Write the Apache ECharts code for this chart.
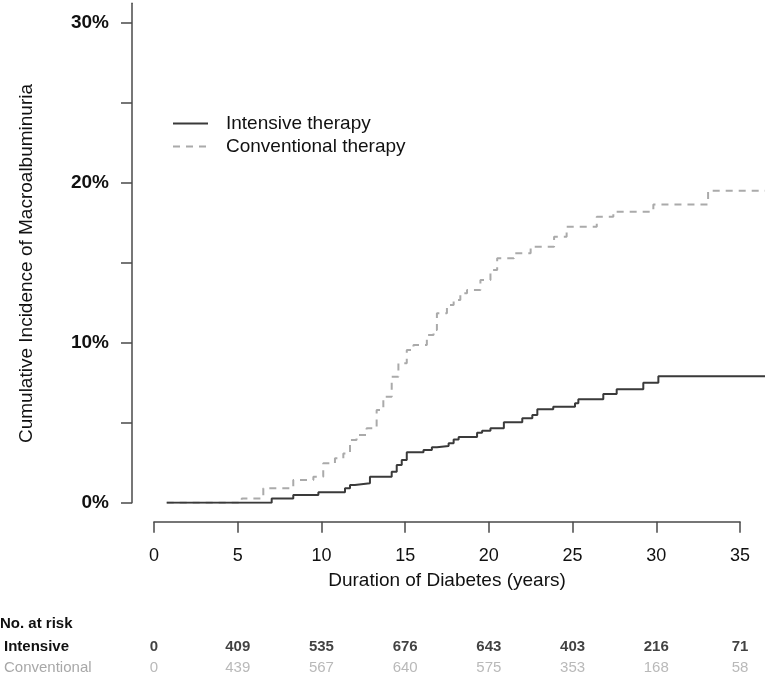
<!DOCTYPE html>
<html>
<head>
<meta charset="utf-8">
<script src="https://cdn.jsdelivr.net/npm/echarts@6/dist/echarts.min.js"></script>
<style>
html,body{margin:0;padding:0;background:#fff;}
#chart{width:768px;height:679px;}
</style>
</head>
<body>
<div id="chart"></div>
<script>
// ---- data ----
var intensiveYears = [0.76, 7.03, 8.32, 9.82, 11.41, 11.71, 12.0, 12.9, 14.2, 14.5, 14.8, 15.1, 16.1, 16.6, 16.9, 17.6, 17.9, 18.2, 19.3, 19.6, 20.1, 20.9, 22.0, 22.6, 22.9, 23.85, 25.15, 25.35, 26.84, 27.64, 29.23, 30.13, 36.5];
var intensiveIncidence = [0, 0.27, 0.48, 0.65, 0.9, 1.1, 1.21, 1.62, 1.94, 2.35, 2.67, 3.15, 3.29, 3.46, 3.54, 3.72, 3.95, 4.1, 4.37, 4.5, 4.65, 5.02, 5.27, 5.48, 5.83, 6.0, 6.21, 6.46, 6.79, 7.08, 7.5, 7.9, 7.9];
var conventionalYears = [0.76, 5.24, 6.53, 8.32, 9.52, 10.11, 10.81, 11.31, 11.71, 12.1, 12.7, 13.3, 13.7, 14.2, 14.6, 15.1, 15.5, 16.3, 16.7, 16.9, 17.5, 17.9, 18.3, 18.7, 19.5, 20.1, 20.5, 21.5, 22.5, 23.9, 24.65, 26.45, 27.44, 29.83, 33.1, 36.5];
var conventionalIncidence = [0, 0.27, 0.9, 1.42, 1.62, 2.46, 2.77, 3.08, 3.92, 4.23, 4.65, 5.79, 6.62, 7.87, 8.71, 9.54, 9.85, 10.47, 10.79, 11.83, 12.35, 12.66, 13.08, 13.29, 13.91, 14.53, 15.27, 15.58, 15.99, 16.61, 17.24, 17.86, 18.18, 18.63, 19.49, 19.49];
var seriesNames = ['Intensive therapy', 'Conventional therapy'];
var xTicks = [0, 5, 10, 15, 20, 25, 30, 35];
var yTicks = [0, 5, 10, 15, 20, 25, 30];
var yTickLabels = [0, 10, 20, 30];
var riskTimes = [0, 5, 10, 15, 20, 25, 30, 35];
var riskRows = ['Intensive', 'Conventional'];
var intensiveAtRisk = [0, 409, 535, 676, 643, 403, 216, 71];
var conventionalAtRisk = [0, 439, 567, 640, 575, 353, 168, 58];
var xTitle = 'Duration of Diabetes (years)';
var yTitle = 'Cumulative Incidence of Macroalbuminuria';
var riskTitle = 'No. at risk';

function zip(a, b) { return a.map(function (v, i) { return [v, b[i]]; }); }

var FONT = 'Liberation Sans, Arial, Helvetica, sans-serif';
var AXIS = '#4a4a4a';
var riskData = [];
riskTimes.forEach(function (t, i) {
  riskData.push({ value: [t, riskRows[0], intensiveAtRisk[i]], label: { fontWeight: 'bold', color: '#111' } });
  riskData.push({ value: [t, riskRows[1], conventionalAtRisk[i]], label: { fontWeight: 'normal', color: '#a8a8a8' } });
});

var chart = echarts.init(document.getElementById('chart'), null, { renderer: 'canvas' });
chart.setOption({
  animation: false,
  backgroundColor: '#ffffff',
  textStyle: { fontFamily: FONT },
  title: {
    text: riskTitle, left: 0, top: 616, padding: 0,
    textStyle: { fontFamily: FONT, fontSize: 15, fontWeight: 'bold', color: '#111' }
  },
  legend: {
    data: seriesNames, orient: 'vertical', left: 172, top: 114, padding: 0,
    itemWidth: 35, itemHeight: 14, itemGap: 4,
    itemStyle: { opacity: 0 },
    textStyle: { fontFamily: FONT, fontSize: 19, color: '#111', padding: [0, 0, 0, 13] }
  },
  grid: [
    // data grid: x 0..36.5 (curves run past the last tick)
    { left: 154, right: 3, top: 3.2, bottom: 176.3 },
    // risk table grid
    { left: 154, right: 28, top: 636, bottom: 0 },
    // visible x axis grid: 0..35 with the same scale
    { left: 154, right: 28, top: 3.2, bottom: 176.3 }
  ],
  xAxis: [
    { gridIndex: 0, type: 'value', min: 0, max: 36.5, show: false },
    { gridIndex: 1, type: 'value', min: 0, max: 35, show: false },
    {
      gridIndex: 2, type: 'value', min: 0, max: 35, interval: 5, offset: 19, position: 'bottom',
      name: xTitle, nameLocation: 'middle', nameGap: 50,
      nameTextStyle: { fontFamily: FONT, fontSize: 19, color: '#111' },
      axisLine: { show: true, onZero: false, lineStyle: { color: AXIS, width: 1.5 } },
      axisTick: { show: true, length: 11, lineStyle: { color: AXIS, width: 1.5 }, customValues: xTicks },
      axisLabel: { fontFamily: FONT, fontSize: 18, color: '#111', margin: 25, customValues: xTicks },
      splitLine: { show: false }
    }
  ],
  yAxis: [
    {
      gridIndex: 0, type: 'value', min: 0, max: 31.2, offset: 22, position: 'left',
      axisLine: { show: true, onZero: false, lineStyle: { color: AXIS, width: 1.5 } },
      axisTick: { show: true, length: 11, lineStyle: { color: AXIS, width: 1.5 }, customValues: yTicks },
      axisLabel: { fontFamily: FONT, fontSize: 19, fontWeight: 'bold', color: '#111', margin: 23,
        customValues: yTickLabels, formatter: '{value}%' },
      splitLine: { show: false }
    },
    {
      gridIndex: 1, type: 'category', data: riskRows.slice().reverse(),
      axisLine: { show: false }, axisTick: { show: false },
      axisLabel: {
        margin: 150, align: 'left', fontFamily: FONT, fontSize: 15,
        formatter: function (v) { return v === riskRows[0] ? '{a|' + v + '}' : '{b|' + v + '}'; },
        rich: {
          a: { fontFamily: FONT, fontSize: 15, fontWeight: 'bold', color: '#111' },
          b: { fontFamily: FONT, fontSize: 15, color: '#a8a8a8' }
        }
      }
    },
    { gridIndex: 2, type: 'value', min: 0, max: 31.2, show: false }
  ],
  graphic: [{
    type: 'text', x: 27, y: 263.5, rotation: Math.PI / 2,
    style: { text: yTitle, font: '19px ' + FONT, fill: '#111', align: 'center', verticalAlign: 'middle' }
  }],
  series: [
    {
      name: seriesNames[0], type: 'line', xAxisIndex: 0, yAxisIndex: 0, step: 'end',
      data: zip(intensiveYears, intensiveIncidence),
      symbol: 'none', showSymbol: false,
      lineStyle: { color: '#3a3a3a', width: 2 }, itemStyle: { color: '#3a3a3a' }, z: 3
    },
    {
      name: seriesNames[1], type: 'line', xAxisIndex: 0, yAxisIndex: 0, step: 'end',
      data: zip(conventionalYears, conventionalIncidence),
      symbol: 'none', showSymbol: false,
      lineStyle: { color: '#aaaaaa', width: 2, type: [7, 6] }, itemStyle: { color: '#aaaaaa' }, z: 2
    },
    {
      type: 'scatter', xAxisIndex: 1, yAxisIndex: 1, data: riskData,
      symbolSize: 1, itemStyle: { color: 'rgba(0,0,0,0)' }, silent: true,
      label: { show: true, position: 'inside', fontFamily: FONT, fontSize: 15,
        formatter: function (p) { return String(p.value[2]); } }
    }
  ]
});
</script>
</body>
</html>
